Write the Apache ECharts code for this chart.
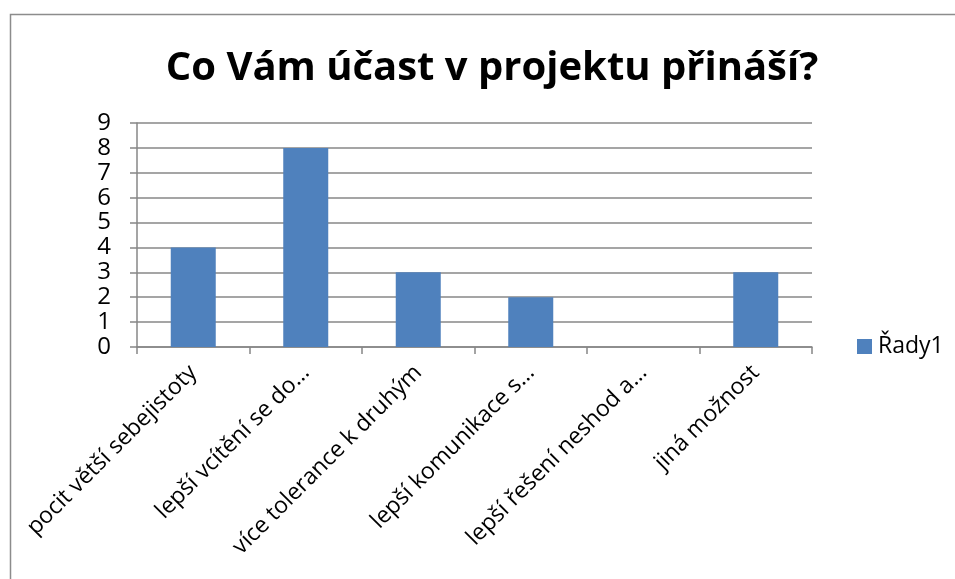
<!DOCTYPE html>
<html>
<head>
<meta charset="utf-8">
<script src="https://cdn.jsdelivr.net/npm/echarts@6/dist/echarts.min.js"></script>
<style>
  html, body { margin: 0; padding: 0; background: #fff; }
  #chart { width: 955px; height: 579px; }
</style>
</head>
<body>
<div id="chart"></div>
<script>
var categories = ['pocit větší sebejistoty', 'lepší vcítění se do…', 'více tolerance k druhým', 'lepší komunikace s…', 'lepší řešení neshod a…', 'jiná možnost'];
var values = [4, 8, 3, 2, 0, 3];
var seriesName = 'Řady1';

var font = 'Open Sans, Liberation Sans, sans-serif';
var lineColor = '#878787';

var chart = echarts.init(document.getElementById('chart'));
chart.setOption({
    animation: false,
    graphic: [{
        type: 'rect',
        left: 8, top: 12,
        shape: { width: 980, height: 620 },
        style: { fill: 'none', stroke: '#8c8c8c', lineWidth: 1.5 }
    }],
    title: {
        text: 'Co Vám účast v projektu přináší?',
        left: 487, top: 44, textAlign: 'center',
        textStyle: { fontFamily: font, fontSize: 40, fontWeight: 'bold', color: '#000' }
    },
    legend: {
        left: 852, top: 330,
        itemWidth: 15, itemHeight: 15, icon: 'rect', itemGap: 5,
        textStyle: { fontFamily: font, fontSize: 23, color: '#000', padding: [0, 0, 0, 1] },
        data: [seriesName]
    },
    grid: { left: 137, right: 143, top: 123, bottom: 232, containLabel: false },
    xAxis: {
        type: 'category',
        data: categories,
        axisLine: { lineStyle: { color: lineColor, width: 1.5 } },
        axisTick: { show: true, length: 7, lineStyle: { color: lineColor, width: 1.5 } },
        axisLabel: { rotate: 45, interval: 0, margin: 22, fontFamily: font, fontSize: 23, color: '#000' }
    },
    yAxis: {
        type: 'value',
        min: 0, max: 9, interval: 1,
        axisLine: { show: true, lineStyle: { color: lineColor, width: 1.5 } },
        axisTick: { show: true, length: 7, lineStyle: { color: lineColor, width: 1.5 } },
        splitLine: { lineStyle: { color: lineColor, width: 1.5 } },
        axisLabel: { margin: 26, fontFamily: font, fontSize: 24, color: '#000' }
    },
    series: [{
        name: seriesName,
        type: 'bar',
        data: values,
        barWidth: '40%',
        itemStyle: { color: '#4F81BD' }
    }]
});
</script>
</body>
</html>
